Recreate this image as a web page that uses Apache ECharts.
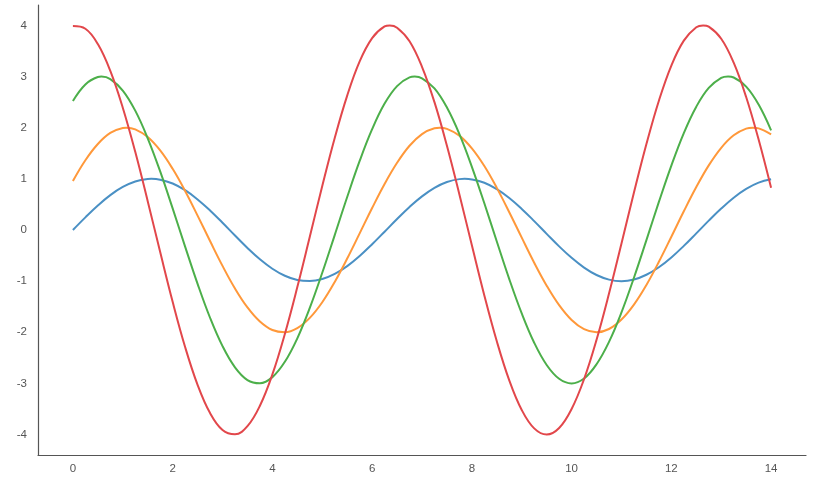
<!DOCTYPE html>
<html><head><meta charset="utf-8">
<script src="https://cdn.jsdelivr.net/npm/echarts@6/dist/echarts.min.js"></script>
<style>html,body{margin:0;padding:0;background:#fff}#c{width:834px;height:487px}</style>
</head><body><div id="c"></div>
<script>
var xValues = [0,0.25,0.5,0.75,1,1.25,1.5,1.75,2,2.25,2.5,2.75,3,3.25,3.5,3.75,4,4.25,4.5,4.75,5,5.25,5.5,5.75,6,6.25,6.5,6.75,7,7.25,7.5,7.75,8,8.25,8.5,8.75,9,9.25,9.5,9.75,10,10.25,10.5,10.75,11,11.25,11.5,11.75,12,12.25,12.5,12.75,13,13.25,13.5,13.75,14];
var blueValues = [0.000,0.247,0.479,0.682,0.841,0.949,0.997,0.984,0.909,0.778,0.598,0.382,0.141,-0.108,-0.351,-0.572,-0.757,-0.895,-0.978,-0.999,-0.959,-0.859,-0.706,-0.508,-0.279,-0.033,0.215,0.450,0.657,0.824,0.938,0.995,0.989,0.923,0.798,0.625,0.412,0.174,-0.075,-0.320,-0.544,-0.735,-0.880,-0.970,-1.000,-0.968,-0.875,-0.729,-0.537,-0.311,-0.066,0.183,0.420,0.632,0.804,0.926,0.991];
var orangeValues = [0.958,1.364,1.682,1.898,1.994,1.968,1.818,1.556,1.196,0.764,0.282,-0.216,-0.702,-1.144,-1.514,-1.790,-1.956,-1.998,-1.918,-1.718,-1.412,-1.016,-0.558,-0.066,0.430,0.900,1.314,1.648,1.876,1.990,1.978,1.846,1.596,1.250,0.824,0.348,-0.150,-0.640,-1.088,-1.470,-1.760,-1.940,-2.000,-1.936,-1.750,-1.458,-1.074,-0.622,-0.132,0.366,0.840,1.264,1.608,1.852,1.982,1.988,1.870];
var greenValues = [2.523,2.847,2.991,2.952,2.727,2.334,1.794,1.146,0.423,-0.324,-1.053,-1.716,-2.271,-2.685,-2.934,-2.997,-2.877,-2.577,-2.118,-1.524,-0.837,-0.099,0.645,1.350,1.971,2.472,2.814,2.985,2.967,2.769,2.394,1.875,1.236,0.522,-0.225,-0.960,-1.632,-2.205,-2.640,-2.910,-3.000,-2.904,-2.625,-2.187,-1.611,-0.933,-0.198,0.549,1.260,1.896,2.412,2.778,2.973,2.982,2.805,2.454,1.950];
var redValues = [3.988,3.936,3.636,3.112,2.392,1.528,0.564,-0.432,-1.404,-2.288,-3.028,-3.580,-3.912,-3.996,-3.836,-3.436,-2.824,-2.032,-1.116,-0.132,0.860,1.800,2.628,3.296,3.752,3.980,3.956,3.692,3.192,2.500,1.648,0.696,-0.300,-1.280,-2.176,-2.940,-3.520,-3.880,-4.000,-3.872,-3.500,-2.916,-2.148,-1.244,-0.264,0.732,1.680,2.528,3.216,3.704,3.964,3.976,3.740,3.272,2.600,1.768,0.824];
// crest points read between grid samples
var blueCrestX = [1.571, 7.854];
var blueCrestY = [1, 1];
var orangeCrestX = [1.071, 7.354, 13.637];
var orangeCrestY = [2, 2, 2];
var greenCrestX = [0.571, 6.854, 13.137];
var greenCrestY = [3, 3, 3];
var redCrestX = [6.354, 12.637];
var redCrestY = [4, 4];
var xTicks = [0,2,4,6,8,10,12,14];
var yTicks = [-4,-3,-2,-1,0,1,2,3,4];

function pairs(ys, cx, cy){
  var d = xValues.map(function(x,i){ return [x, ys[i]]; });
  cx.forEach(function(x,i){ d.push([x, cy[i]]); });
  d.sort(function(a,b){ return a[0]-b[0]; });
  return d;
}
var colors = ['#4a90c4','#ff983a','#4caf4a','#e2474b'];
var all = [pairs(blueValues, blueCrestX, blueCrestY), pairs(orangeValues, orangeCrestX, orangeCrestY),
           pairs(greenValues, greenCrestX, greenCrestY), pairs(redValues, redCrestX, redCrestY)];
var chart = echarts.init(document.getElementById('c'), null, {renderer:'canvas'});
var labelStyle = {color:'#555', fontSize:11.5, fontFamily:'Liberation Sans, Arial, sans-serif'};
chart.setOption({
  animation:false,
  grid:{left:38, right:28, top:5, bottom:32, containLabel:false},
  xAxis:{type:'value', min:-0.7, max:14.7,
    axisLine:{show:true, onZero:false, lineStyle:{color:'#555', width:1.2}},
    axisTick:{show:false}, splitLine:{show:false},
    axisLabel:Object.assign({customValues:xTicks, margin:8}, labelStyle)},
  yAxis:{type:'value', min:-4.4, max:4.4,
    axisLine:{show:true, onZero:false, lineStyle:{color:'#555', width:1.2}},
    axisTick:{show:false}, splitLine:{show:false},
    axisLabel:Object.assign({customValues:yTicks, margin:11}, labelStyle)},
  series: all.map(function(d,i){ return {type:'line', data:d, smooth:0.4, showSymbol:false,
    lineStyle:{color:colors[i], width:2, join:'round'}, itemStyle:{color:colors[i]}, z:2+i}; })
});
</script></body></html>
